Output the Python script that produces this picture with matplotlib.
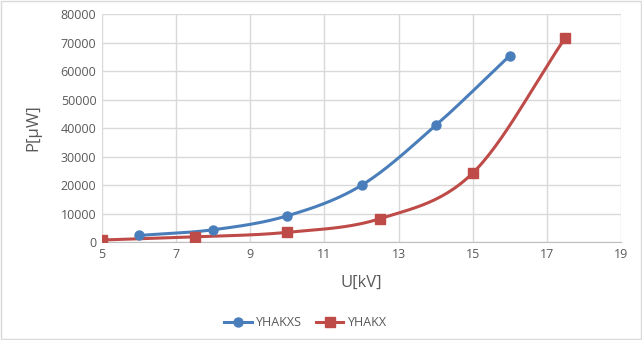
import numpy as np
import matplotlib.pyplot as plt
from matplotlib.patches import Rectangle

# data
u_xs = [6, 8, 10, 12, 14, 16]
p_xs = [2300, 4300, 9200, 19900, 40900, 65400]
u_x = [5, 7.5, 10, 12.5, 15, 17.5]
p_x = [700, 1800, 3400, 8200, 24200, 71700]
names = ["YHAKXS", "YHAKX"]
xticks = [5, 7, 9, 11, 13, 15, 17, 19]
yticks = [0, 10000, 20000, 30000, 40000, 50000, 60000, 70000, 80000]


def smooth(x, y, n=30):
    # catmull-rom curve through the points, like excel "smoothed line"
    x = np.asarray(x, float)
    y = np.asarray(y, float)
    px = np.concatenate([[2*x[0]-x[1]], x, [2*x[-1]-x[-2]]])
    py = np.concatenate([[2*y[0]-y[1]], y, [2*y[-1]-y[-2]]])
    t = np.linspace(0, 1, n)
    ox, oy = [], []
    for i in range(1, len(px)-2):
        for p, o in ((px, ox), (py, oy)):
            p0, p1, p2, p3 = p[i-1], p[i], p[i+1], p[i+2]
            o.extend(0.5*((2*p1) + (-p0+p2)*t + (2*p0-5*p1+4*p2-p3)*t**2 + (-p0+3*p1-3*p2+p3)*t**3))
    return ox, oy


txt = "#595959"
plt.rcParams['font.family'] = ['Open Sans', 'DejaVu Sans']

fig = plt.figure(figsize=(6.42, 3.4), dpi=100)
ax = fig.add_axes([0.1589, 0.2882, 0.8084, 0.6706])

blue = "#4a7ebb"
red = "#be4b48"
sx, sy = smooth(u_xs, p_xs)
ax.plot(sx, sy, color=blue, lw=2.2, zorder=3)
ax.plot(u_xs, p_xs, 'o', color=blue, ms=6.5, zorder=4)
rx, ry = smooth(u_x, p_x)
ax.plot(rx, ry, color=red, lw=2.2, zorder=3)
ax.plot(u_x, p_x, 's', color=red, ms=6.5, zorder=4)

# legend handles
h1, = ax.plot([], [], '-o', color=blue, lw=2.2, ms=6.5)
h2, = ax.plot([], [], '-s', color=red, lw=2.2, ms=6.5)
fig.legend([h1, h2], names, loc='center', bbox_to_anchor=(0.476, 0.05), ncol=2,
           frameon=False, fontsize=9, labelcolor=txt, handlelength=2.2,
           columnspacing=1.1, handletextpad=0.35)

ax.set_xlim(5, 19)
ax.set_ylim(0, 80000)
ax.set_xticks(xticks)
ax.set_yticks(yticks)
ax.set_yticklabels([str(v) for v in yticks])
ax.tick_params(length=0, labelsize=9, colors=txt, pad=4)
ax.grid(True, color="#d9d9d9", lw=1)
ax.set_axisbelow(True)
for s in ['top', 'right', 'left']:
    ax.spines[s].set_visible(False)
ax.spines['bottom'].set_color("#bfbfbf")
ax.set_xlabel("U[kV]", fontsize=12, color=txt, labelpad=10)
ax.set_ylabel("P[µW]", fontsize=12, color=txt, labelpad=14)

fig.patches.append(Rectangle((0.001, 0.002), 0.997, 0.995, transform=fig.transFigure,
                             fill=False, edgecolor="#d9d9d9", lw=1))

fig.savefig("out.png", dpi=100)
